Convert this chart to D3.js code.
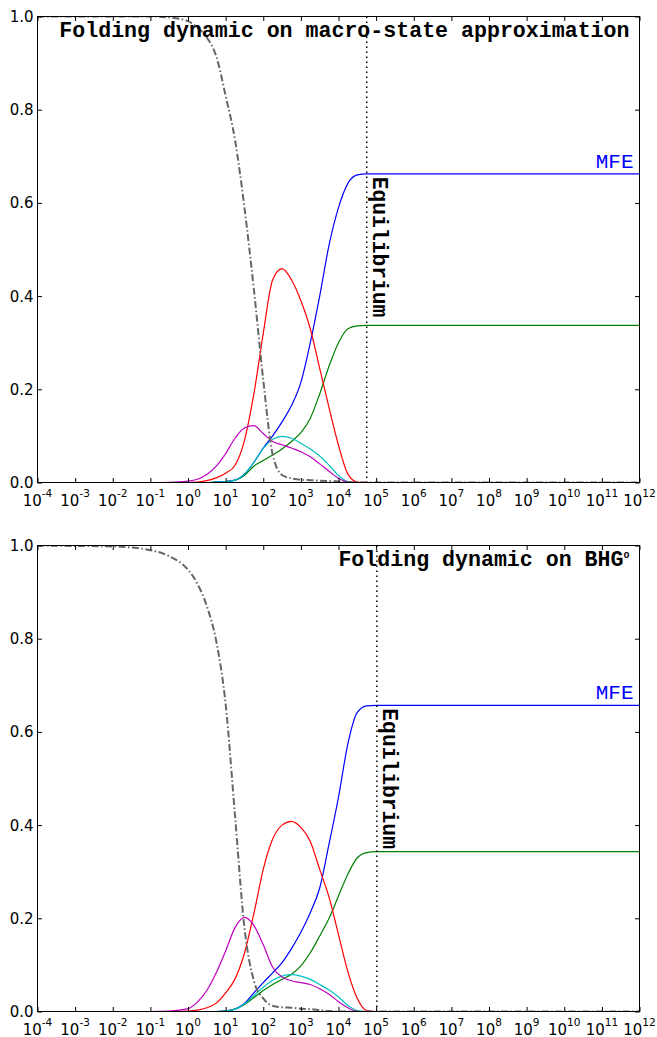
<!DOCTYPE html>
<html>
<head>
<meta charset="utf-8">
<script src="https://cdn.jsdelivr.net/npm/d3@7"></script>
<style>
  body { margin: 0; background: #fff; }
  svg { display: block; }
</style>
</head>
<body>
<svg id="chart" width="657" height="1037"></svg>
<script>
// time grid, as powers of ten
const logTime = [-4, -3, -2, -1, -0.5, 0, 0.25, 0.5, 0.75, 1, 1.25, 1.5, 1.75, 2, 2.25, 2.5, 2.75, 3, 3.25, 3.5, 3.75, 4, 4.25, 4.5, 4.75, 5, 6, 8, 10, 12];

// top panel: macro-state approximation
const macroOpen    = [1, 1, 1, 1, 0.998, 0.99, 0.976, 0.955, 0.915, 0.83, 0.735, 0.59, 0.415, 0.22, 0.06, 0.016, 0.009, 0.006, 0.005, 0.004, 0.003, 0.002, 0.001, 0, 0, 0, 0, 0, 0, 0];
const macroRed     = [0, 0, 0, 0, 0, 0, 0.001, 0.004, 0.010, 0.02, 0.037, 0.09, 0.19, 0.32, 0.435, 0.459, 0.435, 0.39, 0.33, 0.245, 0.16, 0.08, 0.018, 0.001, 0, 0, 0, 0, 0, 0];
const macroMagenta = [0, 0, 0, 0, 0.0005, 0.003, 0.007, 0.017, 0.035, 0.062, 0.095, 0.117, 0.122, 0.105, 0.088, 0.081, 0.074, 0.066, 0.055, 0.040, 0.024, 0.009, 0.001, 0, 0, 0, 0, 0, 0, 0];
const macroCyan    = [0, 0, 0, 0, 0, 0, 0, 0, 0.001, 0.002, 0.005, 0.018, 0.043, 0.073, 0.093, 0.099, 0.095, 0.084, 0.072, 0.057, 0.037, 0.015, 0.002, 0, 0, 0, 0, 0, 0, 0];
const macroMFE     = [0, 0, 0, 0, 0, 0, 0, 0, 0.001, 0.002, 0.005, 0.018, 0.043, 0.074, 0.10, 0.13, 0.165, 0.215, 0.30, 0.40, 0.51, 0.59, 0.642, 0.66, 0.6625, 0.6625, 0.6625, 0.6625, 0.6625, 0.6625];
const macroGreen   = [0, 0, 0, 0, 0, 0, 0, 0, 0.001, 0.002, 0.005, 0.015, 0.035, 0.047, 0.059, 0.072, 0.088, 0.107, 0.138, 0.19, 0.25, 0.30, 0.33, 0.336, 0.337, 0.337, 0.337, 0.337, 0.337, 0.337];
const macroEquilibrium = 4.75;

// bottom panel: BHG
const bhgOpen    = [1, 0.999, 0.998, 0.99, 0.977, 0.948, 0.918, 0.87, 0.795, 0.66, 0.42, 0.18, 0.066, 0.028, 0.012, 0.009, 0.008, 0.006, 0.005, 0.003, 0.001, 0, 0, 0, 0, 0, 0, 0, 0, 0];
const bhgRed     = [0, 0, 0, 0, 0, 0.001, 0.003, 0.008, 0.018, 0.04, 0.07, 0.125, 0.21, 0.305, 0.37, 0.40, 0.408, 0.395, 0.365, 0.305, 0.245, 0.165, 0.085, 0.028, 0.002, 0, 0, 0, 0, 0];
const bhgMagenta = [0, 0, 0, 0, 0.001, 0.006, 0.02, 0.045, 0.083, 0.13, 0.18, 0.202, 0.185, 0.143, 0.095, 0.074, 0.066, 0.062, 0.058, 0.049, 0.037, 0.021, 0.008, 0, 0, 0, 0, 0, 0, 0];
const bhgCyan    = [0, 0, 0, 0, 0, 0, 0, 0, 0, 0.001, 0.005, 0.016, 0.034, 0.052, 0.067, 0.076, 0.079, 0.076, 0.069, 0.058, 0.046, 0.031, 0.013, 0.002, 0, 0, 0, 0, 0, 0];
const bhgMFE     = [0, 0, 0, 0, 0, 0, 0, 0, 0, 0.001, 0.005, 0.017, 0.040, 0.062, 0.083, 0.105, 0.135, 0.17, 0.212, 0.265, 0.36, 0.46, 0.575, 0.642, 0.656, 0.657, 0.657, 0.657, 0.657, 0.657];
const bhgGreen   = [0, 0, 0, 0, 0, 0, 0, 0, 0, 0.001, 0.005, 0.015, 0.03, 0.045, 0.058, 0.069, 0.08, 0.098, 0.126, 0.162, 0.20, 0.248, 0.295, 0.33, 0.341, 0.343, 0.343, 0.343, 0.343, 0.343];
const bhgEquilibrium = 5.02;

const xTickExps = d3.range(-4, 13);
const yTicks = [0, 0.2, 0.4, 0.6, 0.8, 1.0];

const panels = [
  { top: 16.5, bottom: 482.5, title: 'Folding dynamic on macro-state approximation', sup: null,
    eq: macroEquilibrium, open: macroOpen,
    lines: [[macroGreen, '#008000'], [macroMFE, '#0000ff'], [macroRed, '#ff0000'], [macroCyan, '#00bfbf'], [macroMagenta, '#bf00bf']] },
  { top: 545.5, bottom: 1011.5, title: 'Folding dynamic on BHG', sup: 'o',
    eq: bhgEquilibrium, open: bhgOpen,
    lines: [[bhgGreen, '#008000'], [bhgMFE, '#0000ff'], [bhgRed, '#ff0000'], [bhgCyan, '#00bfbf'], [bhgMagenta, '#bf00bf']] }
];

const left = 37.5, right = 639.5;
const monoFont = '"Liberation Mono", "Courier New", monospace';
const svg = d3.select('#chart');

const x = d3.scaleLog().domain([1e-4, 1e12]).range([left, right]);

panels.forEach((p, pi) => {
  const y = d3.scaleLinear().domain([0, 1]).range([p.bottom, p.top]);
  const g = svg.append('g');

  const clipId = 'clip' + pi;
  g.append('clipPath').attr('id', clipId)
    .append('rect')
    .attr('x', left).attr('y', p.top)
    .attr('width', right - left).attr('height', p.bottom - p.top);

  const line = (vals) => d3.line()
    .x((d, i) => x(Math.pow(10, logTime[i])))
    .y((d) => y(d))
    .curve(d3.curveMonotoneX)(vals);

  const plot = g.append('g').attr('clip-path', `url(#${clipId})`);

  plot.selectAll('.series')
    .data(p.lines)
    .enter()
    .append('path')
    .attr('class', 'series')
    .attr('d', (d) => line(d[0]))
    .attr('fill', 'none')
    .attr('stroke', (d) => d[1])
    .attr('stroke-width', 1.2);

  plot.append('path')
    .attr('d', line(p.open))
    .attr('fill', 'none')
    .attr('stroke', '#666')
    .attr('stroke-width', 2)
    .attr('stroke-dasharray', '7,2.5,1.5,2.5');

  // equilibrium marker
  const xe = x(Math.pow(10, p.eq));
  g.append('line')
    .attr('x1', xe).attr('x2', xe)
    .attr('y1', p.top).attr('y2', p.bottom)
    .attr('stroke', '#000')
    .attr('stroke-width', 1.5)
    .attr('stroke-dasharray', '1.5,3.5');

  const mfe = p.lines[1][0];
  const yMfe = y(mfe[mfe.length - 1]);

  g.append('text')
    .attr('transform', `translate(${xe + 6.5},${yMfe + 3}) rotate(90)`)
    .attr('font-family', monoFont)
    .attr('font-weight', 'bold')
    .attr('font-size', 21.3)
    .attr('fill', '#000')
    .text('Equilibrium');

  g.append('text')
    .attr('x', right - 6)
    .attr('y', yMfe - 6)
    .attr('text-anchor', 'end')
    .attr('font-family', monoFont)
    .attr('font-size', 21)
    .attr('fill', '#0000ff')
    .text('MFE');

  // title
  const title = g.append('text')
    .attr('x', right - 10)
    .attr('y', p.top + 20.5)
    .attr('text-anchor', 'end')
    .attr('font-family', monoFont)
    .attr('font-weight', 'bold')
    .attr('font-size', 21.6)
    .attr('fill', '#000');
  title.append('tspan').text(p.title);
  if (p.sup) {
    title.append('tspan').attr('dy', -8).attr('font-size', 10).text(p.sup);
  }

  // axes: ticks inside on all four sides
  const xTickVals = xTickExps.map((e) => Math.pow(10, e));
  g.append('g')
    .attr('transform', `translate(0,${p.bottom})`)
    .call(d3.axisBottom(x).tickValues(xTickVals).tickSize(-4.5).tickFormat(''))
    .call((s) => s.select('.domain').remove());
  g.append('g')
    .attr('transform', `translate(0,${p.top})`)
    .call(d3.axisTop(x).tickValues(xTickVals).tickSize(-4.5).tickFormat(''))
    .call((s) => s.select('.domain').remove());
  g.append('g')
    .attr('transform', `translate(${left},0)`)
    .call(d3.axisLeft(y).tickValues(yTicks).tickSize(-4.5).tickFormat(''))
    .call((s) => s.select('.domain').remove());
  g.append('g')
    .attr('transform', `translate(${right},0)`)
    .call(d3.axisRight(y).tickValues(yTicks).tickSize(-4.5).tickFormat(''))
    .call((s) => s.select('.domain').remove());
  g.selectAll('.tick line').attr('stroke', '#000').attr('stroke-width', 1);

  g.append('rect')
    .attr('x', left).attr('y', p.top)
    .attr('width', right - left).attr('height', p.bottom - p.top)
    .attr('fill', 'none')
    .attr('stroke', '#000')
    .attr('stroke-width', 1);

  // tick labels
  g.selectAll('.ylab')
    .data(yTicks)
    .enter()
    .append('text')
    .attr('class', 'ylab')
    .attr('x', left - 4)
    .attr('y', (d) => y(d))
    .attr('dy', '0.36em')
    .attr('text-anchor', 'end')
    .attr('font-family', '"DejaVu Sans", sans-serif')
    .attr('font-size', 15)
    .text((d) => d.toFixed(1));

  const xl = g.selectAll('.xlab')
    .data(xTickExps)
    .enter()
    .append('text')
    .attr('class', 'xlab')
    .attr('x', (d) => x(Math.pow(10, d)))
    .attr('y', p.bottom + 23)
    .attr('text-anchor', 'middle')
    .attr('font-family', '"DejaVu Sans", sans-serif')
    .attr('font-size', 15);
  xl.append('tspan').text('10');
  xl.append('tspan')
    .attr('dy', -9)
    .attr('font-size', 10.5)
    .text((d) => (d < 0 ? '-' : '') + Math.abs(d));
});
</script>
</body>
</html>
